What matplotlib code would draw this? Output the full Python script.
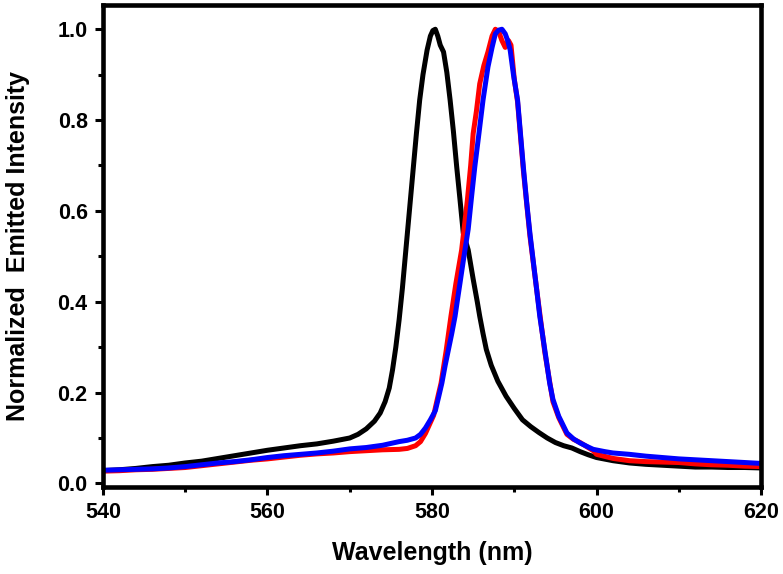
import matplotlib as mpl
mpl.use('Agg')
import matplotlib.pyplot as plt
from matplotlib.ticker import MultipleLocator

# black spectrum
wl_black = [540, 542, 544, 546, 548, 550, 552, 554, 556, 558, 560, 562, 564,
            566, 568, 570, 571, 572, 573, 573.7, 574.3, 574.8, 575.2, 575.6,
            576.0, 576.4, 576.9, 577.3, 577.7, 578.1, 578.5, 578.9, 579.4,
            579.8, 580.1, 580.4, 580.7, 581.0, 581.4, 581.8, 582.2, 582.6,
            583.0, 583.4, 583.8, 584.4, 585.0, 585.5, 585.8, 586.2, 586.6,
            587.2, 588.0, 589.0, 590.0, 591.0, 592.0, 593.0, 594.0, 595.0,
            596.0, 597.0, 598.0, 599.0, 600.0, 602, 604, 606, 608, 610, 612,
            614, 616, 618, 620]
int_black = [0.028, 0.030, 0.033, 0.037, 0.040, 0.045, 0.049, 0.055, 0.061,
             0.067, 0.073, 0.078, 0.083, 0.087, 0.093, 0.100, 0.108, 0.120,
             0.137, 0.155, 0.180, 0.210, 0.250, 0.300, 0.360, 0.430, 0.530,
             0.610, 0.690, 0.770, 0.844, 0.900, 0.954, 0.985, 0.997, 1.000,
             0.985, 0.965, 0.950, 0.905, 0.844, 0.775, 0.697, 0.625, 0.551,
             0.514, 0.450, 0.400, 0.368, 0.330, 0.295, 0.260, 0.225, 0.192,
             0.165, 0.140, 0.125, 0.112, 0.100, 0.090, 0.083, 0.078, 0.070,
             0.063, 0.057, 0.050, 0.045, 0.042, 0.040, 0.038, 0.036, 0.036,
             0.035, 0.035, 0.034]

# red spectrum
wl_red = [540, 542, 544, 546, 548, 550, 552, 554, 556, 558, 560, 562, 564,
          566, 568, 570, 572, 574, 576, 577, 578, 578.6, 579.2, 579.7, 580.2,
          580.7, 581.1, 581.7, 582.3, 582.9, 583.6, 584.3, 584.7, 585.0,
          585.4, 585.8, 586.3, 586.8, 587.3, 587.7, 588.1, 588.5, 588.9,
          589.3, 589.6, 590.0, 590.4, 591.1, 591.9, 592.7, 593.7, 594.7,
          595.4, 596.4, 597.2, 598.0, 599.6, 600, 602, 604, 606, 608, 610,
          612, 614, 616, 618, 620]
int_red = [0.027, 0.028, 0.030, 0.031, 0.033, 0.035, 0.039, 0.043, 0.047,
           0.051, 0.054, 0.058, 0.062, 0.065, 0.067, 0.070, 0.072, 0.074,
           0.075, 0.077, 0.083, 0.092, 0.110, 0.130, 0.150, 0.190, 0.221,
           0.290, 0.368, 0.440, 0.514, 0.624, 0.700, 0.770, 0.820, 0.880,
           0.920, 0.950, 0.985, 1.000, 0.995, 0.975, 0.960, 0.975, 0.965,
           0.890, 0.840, 0.690, 0.545, 0.430, 0.290, 0.180, 0.145, 0.108,
           0.097, 0.090, 0.072, 0.064, 0.055, 0.050, 0.048, 0.047, 0.046,
           0.043, 0.041, 0.040, 0.038, 0.037]

# blue spectrum
wl_blue = [540, 542, 544, 546, 548, 550, 552, 554, 556, 558, 560, 562, 564,
           566, 568, 570, 572, 574, 575, 576, 577, 578, 578.6, 579.2, 579.8,
           580.4, 580.8, 581.2, 581.6, 582.0, 582.4, 582.8, 583.1, 583.4,
           583.8, 584.1, 584.4, 584.8, 585.2, 585.7, 586.2, 586.8, 587.3,
           587.7, 588.1, 588.5, 588.9, 589.2, 589.5, 589.9, 590.4, 590.8,
           591.1, 591.5, 591.9, 592.3, 592.7, 593.1, 593.7, 594.3, 594.7,
           595.4, 596.4, 597.2, 598.0, 599.0, 599.6, 601, 602, 604, 606, 608,
           610, 612, 614, 616, 618, 620]
int_blue = [0.029, 0.030, 0.031, 0.032, 0.034, 0.037, 0.041, 0.045, 0.048,
            0.052, 0.057, 0.061, 0.064, 0.067, 0.071, 0.076, 0.079, 0.084,
            0.088, 0.092, 0.095, 0.100, 0.108, 0.122, 0.140, 0.160, 0.190,
            0.221, 0.260, 0.295, 0.330, 0.368, 0.405, 0.441, 0.490, 0.525,
            0.560, 0.630, 0.697, 0.770, 0.844, 0.917, 0.960, 0.990, 0.998,
            1.000, 0.990, 0.975, 0.954, 0.900, 0.844, 0.760, 0.697, 0.620,
            0.551, 0.490, 0.430, 0.368, 0.295, 0.221, 0.185, 0.148, 0.111,
            0.098, 0.089, 0.080, 0.075, 0.070, 0.067, 0.064, 0.060, 0.057,
            0.054, 0.052, 0.050, 0.048, 0.046, 0.044]

plt.rcParams['font.family'] = ['Liberation Sans', 'DejaVu Sans']
plt.rcParams['font.weight'] = 'bold'

fig = plt.figure(figsize=(7.83, 5.74), dpi=100)
ax = fig.add_axes([0.1315, 0.1515, 0.8405, 0.8395])

ax.plot(wl_black, int_black, color='black', lw=3.6)
ax.plot(wl_red, int_red, color='#ff0000', lw=3.6)
ax.plot(wl_blue, int_blue, color='#0000ff', lw=3.6)

ax.set_xlim(540, 620)
ax.set_ylim(-0.008, 1.053)
ax.xaxis.set_major_locator(MultipleLocator(20))
ax.xaxis.set_minor_locator(MultipleLocator(10))
ax.yaxis.set_major_locator(MultipleLocator(0.2))
ax.yaxis.set_minor_locator(MultipleLocator(0.1))
ax.yaxis.set_major_formatter(mpl.ticker.FormatStrFormatter('%.1f'))

for s in ax.spines.values():
    s.set_linewidth(3.3)

ax.tick_params(which='major', direction='out', length=6, width=2.2,
               labelsize=15.5, pad=5)
ax.tick_params(which='minor', direction='out', length=3.5, width=2.2)
ax.tick_params(top=False, right=False, which='both')
for lab in ax.get_xticklabels() + ax.get_yticklabels():
    lab.set_fontweight('bold')

ax.set_xlabel('Wavelength (nm)', fontsize=18, fontweight='bold', labelpad=13)
ax.set_ylabel('Normalized  Emitted Intensity', fontsize=18, fontweight='bold',
              labelpad=20)

fig.savefig('out.png', dpi=100)
